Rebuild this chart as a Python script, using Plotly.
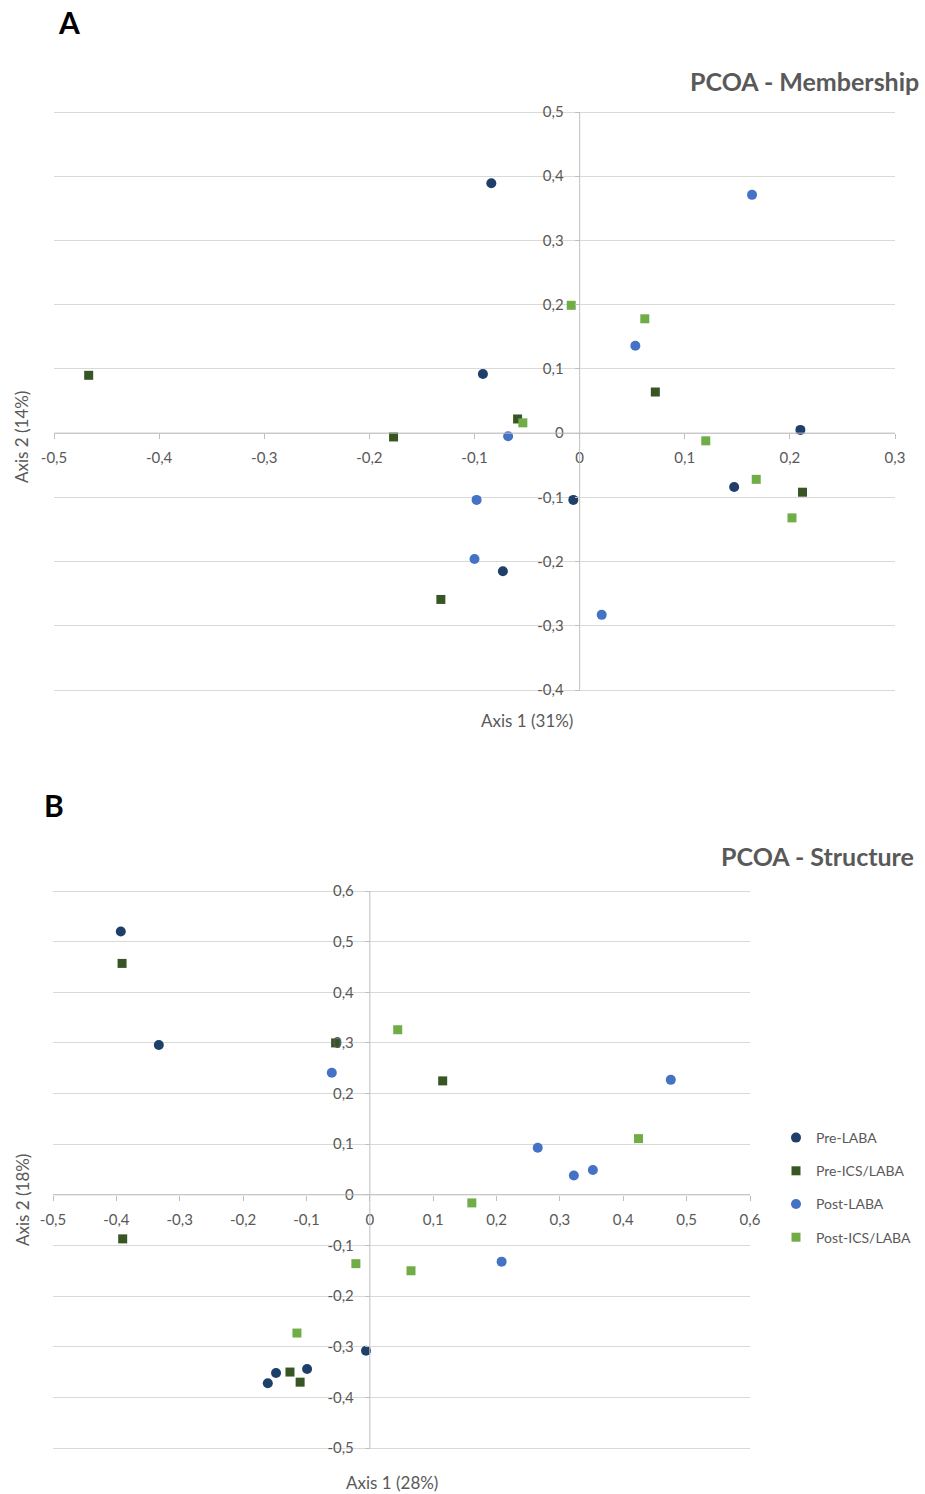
import plotly.graph_objects as go

# ---------------- data ----------------
series_names = ["Pre-LABA", "Pre-ICS/LABA", "Post-LABA", "Post-ICS/LABA"]
series_colors = ["#1f3f6b", "#375623", "#4472c4", "#70ad47"]
series_symbols = ["circle", "square", "circle", "square"]

# Panel A - Membership
a_pre_laba_x = [-0.084, -0.092, 0.210, 0.147, -0.006, -0.073]
a_pre_laba_y = [0.389, 0.092, 0.005, -0.084, -0.104, -0.215]
a_pre_ics_x = [-0.467, -0.177, -0.059, 0.072, 0.212, -0.132]
a_pre_ics_y = [0.090, -0.006, 0.022, 0.064, -0.092, -0.259]
a_post_laba_x = [0.164, 0.053, -0.068, -0.098, -0.100, 0.021]
a_post_laba_y = [0.371, 0.136, -0.005, -0.104, -0.196, -0.283]
a_post_ics_x = [-0.008, 0.062, -0.054, 0.120, 0.168, 0.202]
a_post_ics_y = [0.199, 0.178, 0.016, -0.012, -0.072, -0.132]

# Panel B - Structure
b_pre_laba_x = [-0.393, -0.333, -0.006, -0.099, -0.148, -0.161]
b_pre_laba_y = [0.520, 0.296, -0.308, -0.344, -0.352, -0.372]
b_pre_ics_x = [-0.391, -0.054, 0.115, -0.390, -0.126, -0.110]
b_pre_ics_y = [0.457, 0.300, 0.225, -0.087, -0.350, -0.370]
b_post_laba_x = [-0.060, 0.475, 0.265, 0.322, 0.352, 0.208]
b_post_laba_y = [0.241, 0.227, 0.093, 0.038, 0.049, -0.132]
b_post_ics_x = [0.044, 0.424, 0.161, -0.022, 0.065, -0.115]
b_post_ics_y = [0.326, 0.111, -0.016, -0.136, -0.150, -0.273]

# ticks
a_x_ticks = [-0.5, -0.4, -0.3, -0.2, -0.1, 0, 0.1, 0.2, 0.3]
a_x_labels = ["-0,5", "-0,4", "-0,3", "-0,2", "-0,1", "0", "0,1", "0,2", "0,3"]
a_y_ticks = [-0.4, -0.3, -0.2, -0.1, 0, 0.1, 0.2, 0.3, 0.4, 0.5]
a_y_labels = ["-0,4", "-0,3", "-0,2", "-0,1", "0", "0,1", "0,2", "0,3", "0,4", "0,5"]
b_x_ticks = [-0.5, -0.4, -0.3, -0.2, -0.1, 0, 0.1, 0.2, 0.3, 0.4, 0.5, 0.6]
b_x_labels = ["-0,5", "-0,4", "-0,3", "-0,2", "-0,1", "0", "0,1", "0,2", "0,3", "0,4", "0,5", "0,6"]
b_y_ticks = [-0.5, -0.4, -0.3, -0.2, -0.1, 0, 0.1, 0.2, 0.3, 0.4, 0.5, 0.6]
b_y_labels = ["-0,5", "-0,4", "-0,3", "-0,2", "-0,1", "0", "0,1", "0,2", "0,3", "0,4", "0,5", "0,6"]

a_title = "PCOA - Membership"
b_title = "PCOA - Structure"
a_xlabel, a_ylabel = "Axis 1 (31%)", "Axis 2 (14%)"
b_xlabel, b_ylabel = "Axis 1 (28%)", "Axis 2 (18%)"

# ---------------- layout geometry ----------------
W, H = 925, 1494
PAD_Y = 4  # px of padding beyond the end ticks so edge gridlines are drawn


def frame(rng, px0, px1, vertical, pad):
    """Return (domain, range) for an axis whose ends rng map to pixels px0..px1,
    padded by `pad` pixels on both sides."""
    per_px = (rng[1] - rng[0]) / abs(px1 - px0)
    r = [rng[0] - pad * per_px, rng[1] + pad * per_px]
    if vertical:  # px0 = bottom pixel, px1 = top pixel
        d = [1 - (px0 + pad) / H, 1 - (px1 - pad) / H]
    else:
        d = [(px0 - pad) / W, (px1 + pad) / W]
    return d, r


a_xdom, a_xrange = frame([-0.5, 0.3], 54, 895, False, 0)
a_ydom, a_yrange = frame([-0.4, 0.5], 690, 112, True, PAD_Y)
b_xdom, b_xrange = frame([-0.5, 0.6], 53, 750, False, 0)
b_ydom, b_yrange = frame([-0.5, 0.6], 1448, 891, True, PAD_Y)


def zero_pos(dom, rng):
    return dom[0] + (0 - rng[0]) / (rng[1] - rng[0]) * (dom[1] - dom[0])


FONT = "Lato"
TXT = "#595959"
GRID = "#d9d9d9"
LINE = "#bfbfbf"

fig = go.Figure()

a_sets = [(a_pre_laba_x, a_pre_laba_y), (a_pre_ics_x, a_pre_ics_y),
          (a_post_laba_x, a_post_laba_y), (a_post_ics_x, a_post_ics_y)]
b_sets = [(b_pre_laba_x, b_pre_laba_y), (b_pre_ics_x, b_pre_ics_y),
          (b_post_laba_x, b_post_laba_y), (b_post_ics_x, b_post_ics_y)]

for i, (xs, ys) in enumerate(a_sets):
    fig.add_trace(go.Scatter(
        x=xs, y=ys, mode="markers", name=series_names[i], showlegend=False,
        marker=dict(color=series_colors[i], symbol=series_symbols[i],
                    size=10 if series_symbols[i] == "circle" else 9),
        xaxis="x", yaxis="y", cliponaxis=False))

for i, (xs, ys) in enumerate(b_sets):
    fig.add_trace(go.Scatter(
        x=xs, y=ys, mode="markers", name=series_names[i], showlegend=True,
        legendgroup=series_names[i],
        marker=dict(color=series_colors[i], symbol=series_symbols[i],
                    size=10 if series_symbols[i] == "circle" else 9),
        xaxis="x2", yaxis="y2", cliponaxis=False))


def xaxis_cfg(dom, rng, ticks, labels, ydom, yrng):
    return dict(domain=dom, range=rng, anchor="free", position=zero_pos(ydom, yrng),
                automargin=False,
                tickmode="array", tickvals=ticks, ticktext=labels,
                showgrid=False, zeroline=False, showline=False,
                ticks="outside", ticklen=5, tickcolor=LINE, ticklabelstandoff=6,
                tickfont=dict(family=FONT, size=15, color=TXT))


def yaxis_cfg(dom, rng, ticks, labels, xdom, xrng):
    return dict(domain=dom, range=rng, anchor="free", position=zero_pos(xdom, xrng),
                automargin=False,
                tickmode="array", tickvals=ticks, ticktext=labels,
                showgrid=True, gridcolor=GRID, gridwidth=1, zeroline=False,
                showline=False, ticks="outside",
                ticklen=5, tickcolor=LINE, ticklabelstandoff=8,
                tickfont=dict(family=FONT, size=15, color=TXT))


# axis lines drawn along the zero values of each panel, ending at the end ticks
shapes = [
    dict(type="line", xref="x", yref="y", x0=a_x_ticks[0], x1=a_x_ticks[-1], y0=0, y1=0,
         line=dict(color=LINE, width=1)),
    dict(type="line", xref="x", yref="y", x0=0, x1=0, y0=a_y_ticks[0], y1=a_y_ticks[-1],
         line=dict(color=LINE, width=1)),
    dict(type="line", xref="x2", yref="y2", x0=b_x_ticks[0], x1=b_x_ticks[-1], y0=0, y1=0,
         line=dict(color=LINE, width=1)),
    dict(type="line", xref="x2", yref="y2", x0=0, x1=0, y0=b_y_ticks[0], y1=b_y_ticks[-1],
         line=dict(color=LINE, width=1)),
]

annotations = [
    dict(text="<b>A</b>", x=56 / W, y=1 - 22 / H, xref="paper", yref="paper",
         showarrow=False, font=dict(family=FONT, size=30, color="#000000"),
         xanchor="left", yanchor="middle"),
    dict(text="<b>B</b>", x=42 / W, y=1 - 805 / H, xref="paper", yref="paper",
         showarrow=False, font=dict(family=FONT, size=30, color="#000000"),
         xanchor="left", yanchor="middle"),
    dict(text="<b>" + a_title + "</b>", x=921 / W, y=1 - 81 / H, xref="paper", yref="paper",
         showarrow=False, font=dict(family=FONT, size=25, color=TXT),
         xanchor="right", yanchor="middle"),
    dict(text="<b>" + b_title + "</b>", x=916 / W, y=1 - 856 / H, xref="paper", yref="paper",
         showarrow=False, font=dict(family=FONT, size=25, color=TXT),
         xanchor="right", yanchor="middle"),
    dict(text=a_xlabel, x=527 / W, y=1 - 720 / H, xref="paper", yref="paper",
         showarrow=False, font=dict(family=FONT, size=17, color=TXT),
         xanchor="center", yanchor="middle"),
    dict(text=a_ylabel, x=22 / W, y=1 - 437 / H, xref="paper", yref="paper",
         showarrow=False, textangle=-90, font=dict(family=FONT, size=17, color=TXT),
         xanchor="center", yanchor="middle"),
    dict(text=b_xlabel, x=392 / W, y=1 - 1482 / H, xref="paper", yref="paper",
         showarrow=False, font=dict(family=FONT, size=17, color=TXT),
         xanchor="center", yanchor="middle"),
    dict(text=b_ylabel, x=22 / W, y=1 - 1200 / H, xref="paper", yref="paper",
         showarrow=False, textangle=-90, font=dict(family=FONT, size=17, color=TXT),
         xanchor="center", yanchor="middle"),
]

fig.update_layout(
    width=W, height=H,
    margin=dict(l=0, r=0, t=0, b=0, autoexpand=False),
    paper_bgcolor="white", plot_bgcolor="white",
    xaxis=xaxis_cfg(a_xdom, a_xrange, a_x_ticks, a_x_labels, a_ydom, a_yrange),
    yaxis=yaxis_cfg(a_ydom, a_yrange, a_y_ticks, a_y_labels, a_xdom, a_xrange),
    xaxis2=xaxis_cfg(b_xdom, b_xrange, b_x_ticks, b_x_labels, b_ydom, b_yrange),
    yaxis2=yaxis_cfg(b_ydom, b_yrange, b_y_ticks, b_y_labels, b_xdom, b_xrange),
    legend=dict(x=776 / W, y=1 - 1122 / H, xanchor="left", yanchor="top",
                font=dict(family=FONT, size=14, color=TXT),
                tracegroupgap=12, itemwidth=30, bgcolor="rgba(0,0,0,0)"),
    shapes=shapes,
    annotations=annotations,
    showlegend=True,
)

fig.write_html("out.html")
